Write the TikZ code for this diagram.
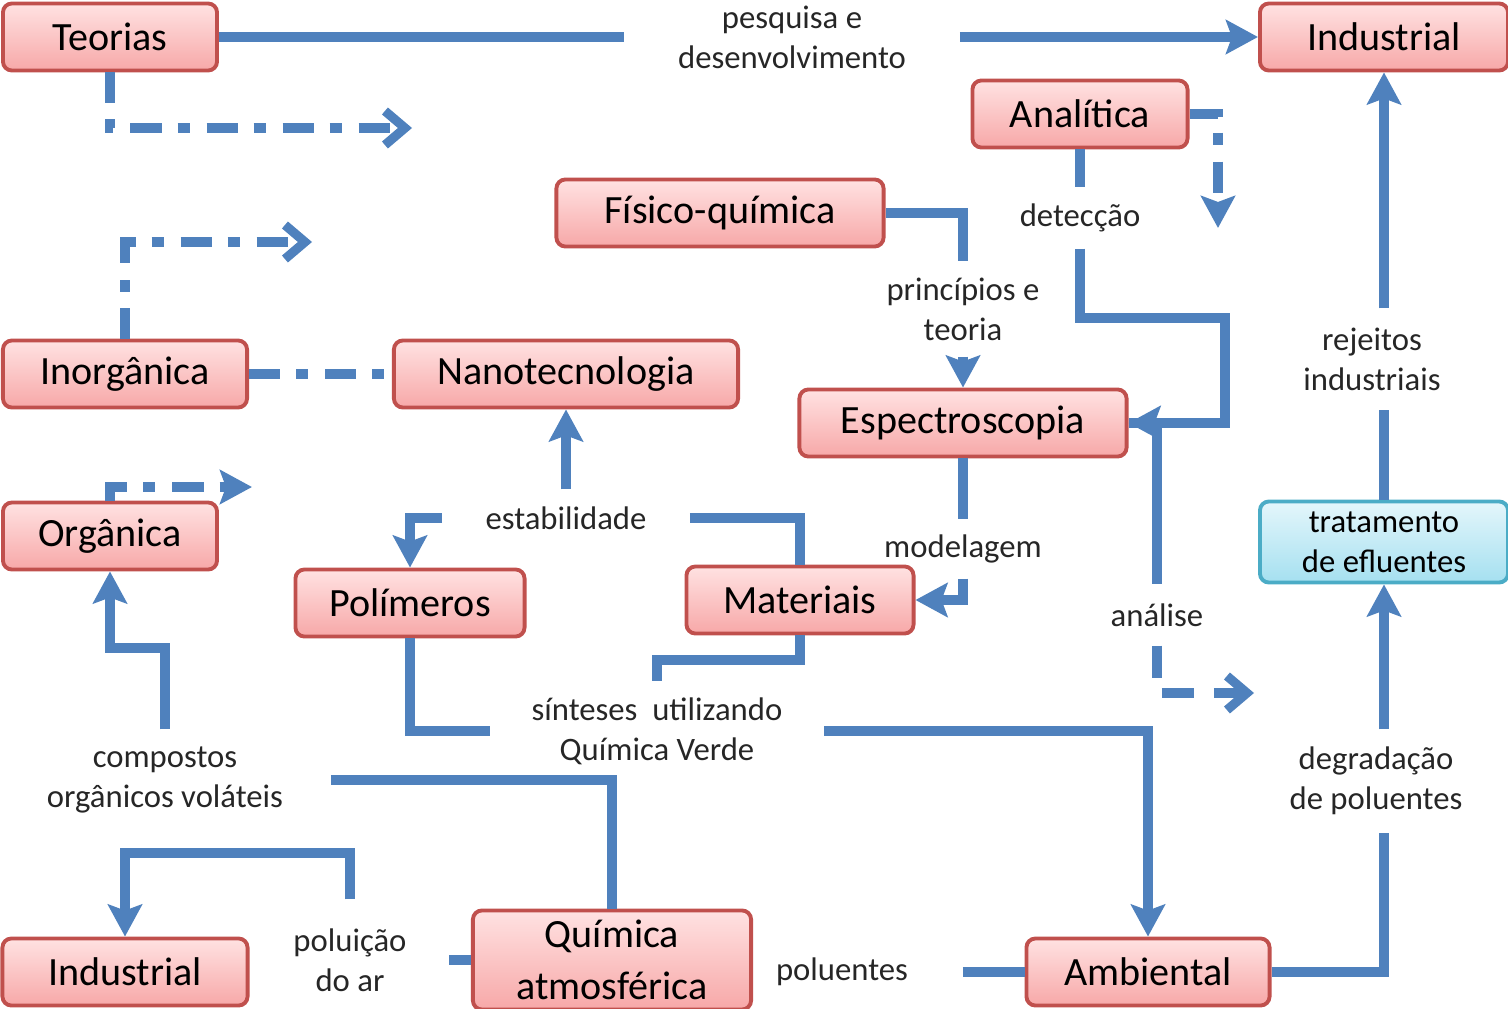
\documentclass[tikz,border=0pt]{standalone}
\usepackage{fontspec}
\setmainfont{Carlito}
\usetikzlibrary{arrows.meta}
\definecolor{boxred}{RGB}{192,80,77}
\definecolor{pinktop}{RGB}{255,226,226}
\definecolor{pinkbot}{RGB}{247,168,168}
\definecolor{boxcyan}{RGB}{75,172,198}
\definecolor{cyantop}{RGB}{228,246,251}
\definecolor{cyanbot}{RGB}{165,224,240}
\definecolor{linkblue}{RGB}{79,129,189}
\newcommand{\fntbox}{\fontsize{11.4}{13.7}\selectfont}
\newcommand{\fntlbl}{\fontsize{9.3}{11.4}\selectfont}
\tikzset{%
  >={Stealth[length=3.2mm,width=3.4mm,inset=0.6mm]},
            base/.style = {rectangle, rounded corners=0.9mm, draw=boxred,
                           line width=1.1pt, minimum height=0.67cm,
                           inner sep=0pt, text centered, font=\fntbox},
  box1/.style = {base, top color=pinktop, bottom color=pinkbot, align=center},
  box2/.style = {base, draw=boxcyan, top color=cyantop, bottom color=cyanbot, font=\fntlbl, align=center},
  void/.style = {rectangle, inner sep=0pt, font=\fntlbl, text=black!85, align=center},
  link/.style = {draw=linkblue, line width=2.6pt},
  ddline/.style = {link, dash pattern=on 3.1mm off 1.6mm on 1.2mm off 1.7mm},
  dline/.style = {link, dash pattern=on 3.2mm off 2mm},
  barb/.style = {-{Straight Barb[length=2mm,width=3.4mm]}},
}
\begin{document}
\begin{tikzpicture}[x=0.01cm, y=-0.01cm]
  \useasboundingbox (0,0) rectangle (1508,1009);

  \node (onTeorias)       [box1, minimum width=2.14cm]                      at (110,37)  {Teorias};
  \node (onIndustrialTop) [box1, minimum width=2.48cm]                      at (1384,37) {Industrial};
  \node (onAnalitica)     [box1, minimum width=2.15cm]                      at (1080,114) {Analítica};
  \node (onFisico)        [box1, minimum width=3.27cm]                      at (720,213) {Físico-química};
  \node (onInorganica)    [box1, minimum width=2.44cm]                      at (125,374) {Inorgânica};
  \node (onNano)          [box1, minimum width=3.44cm]                      at (566,374) {Nanotecnologia};
  \node (onEspectro)      [box1, minimum width=3.27cm]                      at (963,423) {Espectroscopia};
  \node (onOrganica)      [box1, minimum width=2.14cm]                      at (110,536) {Orgânica};
  \node (onPolimeros)     [box1, minimum width=2.29cm]                      at (410,603) {Polímeros};
  \node (onMateriais)     [box1, minimum width=2.27cm]                      at (800,600) {Materiais};
  \node (onTratamento)    [box2, minimum width=2.48cm, minimum height=0.81cm] at (1384,542) {tratamento\\de efluentes};
  \node (onIndustrialBot) [box1, minimum width=2.45cm]                      at (125,972) {Industrial};
  \node (onQuimAtm)       [box1, minimum width=2.78cm, minimum height=0.99cm,
                           font={\fontsize{11.4}{14.8}\selectfont}]        at (612,960) {Química\\atmosférica};
  \node (onAmbiental)     [box1, minimum width=2.43cm]                      at (1148,972) {Ambiental};

  \node (on_text_pd)  [void, minimum width=3.34cm]                         at (792,37)   {pesquisa e\\desenvolvimento};
  \node (on_text_det) [void, minimum height=0.60cm]                        at (1080,218) {detecção};
  \node (on_text_pt)  [void, minimum height=0.94cm]                        at (963,309)  {princípios e\\teoria};
  \node (on_text_est) [void, minimum width=2.46cm, minimum height=0.56cm]  at (566,518)  {estabilidade};
  \node (on_text_mod) [void, minimum height=0.58cm]                        at (963,549)  {modelagem};
  \node (on_text_rej) [void, minimum height=1.00cm]                        at (1372,359) {rejeitos\\industriais};
  \node (on_text_an)  [void, minimum height=0.60cm]                        at (1157,615) {análise};
  \node (on_text_sin) [void, minimum width=3.33cm, minimum height=0.98cm]  at (657,731)  {sínteses \ utilizando\\Química Verde};
  \node (on_text_cov) [void, minimum width=3.30cm, minimum height=1.00cm]  at (165,780)  {compostos\\orgânicos voláteis};
  \node (on_text_deg) [void, minimum height=1.02cm]                        at (1376,781) {degradação\\de poluentes};
  \node (on_text_pa)  [void, minimum width=1.96cm, minimum height=1.20cm]  at (350,960)  {poluição\\do ar};
  \node (on_text_plt) [void, minimum width=2.40cm]                         at (842,972)  {poluentes};

  \coordinate (cTeo) at (412,128);
  \coordinate (cIno) at (312,242);
  \coordinate (cOrg) at (252,487);
  \coordinate (cAna) at (1218,228);
  \coordinate (cDet) at (1225,318);
  \coordinate (cAn)  at (1254,693);
  \coordinate (cSin) at (800,660);
  \coordinate (cCov) at (110,648);
  \coordinate (cPa)  at (125,853);

  \draw[link]          (onTeorias) -- (on_text_pd);
  \draw[link,->]       (on_text_pd) -- (onIndustrialTop);
  \draw[ddline,barb]   (onTeorias) |- (cTeo);
  \draw[ddline,barb]   (onInorganica) |- (cIno);
  \draw[ddline]        (onInorganica) -- (onNano);
  \draw[ddline,->]     (onOrganica) |- (cOrg);
  \draw[ddline,->]     (onAnalitica) -| (cAna);

  \draw[link]          (onAnalitica) -- (on_text_det);
  \draw[link,->]       (on_text_det) |- (cDet) |- (onEspectro.east);
  \draw[link]          (onFisico) -| (on_text_pt);
  \draw[link,->]       (on_text_pt) -- (onEspectro);
  \draw[link]          (onEspectro) -- (on_text_mod);
  \draw[link,->]       (on_text_mod) |- (onMateriais);
  \draw[link]          (onEspectro.east) -| (on_text_an);
  \draw[dline,barb]    (on_text_an) |- (cAn);

  \draw[link,->]       (on_text_est) -- (onNano);
  \draw[link,->]       (on_text_est) -| (onPolimeros);
  \draw[link]          (on_text_est) -| (onMateriais);
  \draw[link]          (onMateriais) -- (cSin) -| (on_text_sin);
  \draw[link]          (onPolimeros) |- (on_text_sin);
  \draw[link,->]       (on_text_sin) -| (onAmbiental);

  \draw[link,->]       (on_text_cov) |- (cCov) -- (onOrganica);
  \draw[link]          (on_text_cov) -| (onQuimAtm);
  \draw[link]          (onQuimAtm) -- (on_text_pa);
  \draw[link,->]       (on_text_pa) |- (cPa) -- (onIndustrialBot);
  \draw[link]          (on_text_plt) -- (onAmbiental);

  \draw[link]          (onAmbiental) -| (onTratamento |- on_text_deg.south);
  \draw[link,->]       (onTratamento |- on_text_deg.north) -- (onTratamento);
  \draw[link]          (onTratamento) -- (onTratamento |- on_text_rej.south);
  \draw[link,->]       (onTratamento |- on_text_rej.north) -- (onIndustrialTop);
\end{tikzpicture}
\end{document}
